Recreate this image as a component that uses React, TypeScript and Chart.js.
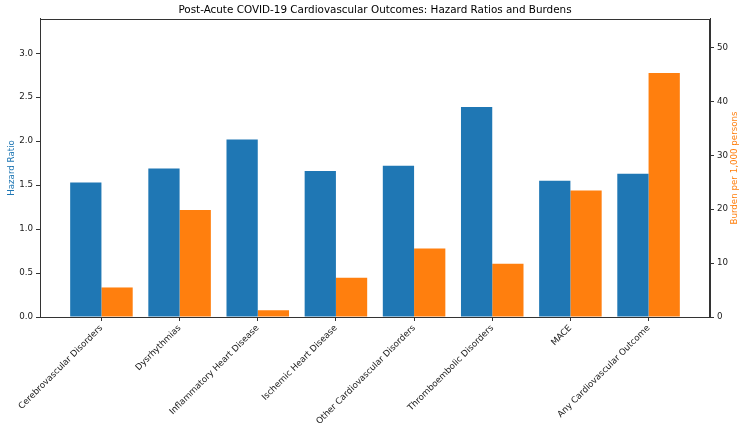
import React, { useEffect, useRef } from "react";
import { Chart, registerables } from "chart.js";
Chart.register(...registerables);

const categories = [
  "Cerebrovascular Disorders",
  "Dysrhythmias",
  "Inflammatory Heart Disease",
  "Ischemic Heart Disease",
  "Other Cardiovascular Disorders",
  "Thromboembolic Disorders",
  "MACE",
  "Any Cardiovascular Outcome",
];
const hazardRatios = [1.53, 1.69, 2.02, 1.66, 1.72, 2.39, 1.55, 1.63];
const burdens = [5.48, 19.86, 1.23, 7.28, 12.72, 9.88, 23.48, 45.29];
const hrTicks = [0, 0.5, 1.0, 1.5, 2.0, 2.5, 3.0];
const burdenTicks = [0, 10, 20, 30, 40, 50];

const FONT = "DejaVu Sans";
const TICK_SIZE = 8.7;
const AXIS = "#333333";
const TEXT = "#1a1a1a";
const BLUE = "#1f77b4";
const ORANGE = "#ff7f0e";

const framePlugin = {
  id: "frame",
  afterDraw(chart: any) {
    const { ctx, chartArea } = chart;
    ctx.save();
    ctx.strokeStyle = AXIS;
    ctx.lineWidth = 1;
    ctx.strokeRect(
      Math.round(chartArea.left) + 0.5,
      Math.round(chartArea.top) + 0.5,
      Math.round(chartArea.right - chartArea.left) - 1,
      Math.round(chartArea.bottom - chartArea.top)
    );
    // right axis title, reading bottom to top
    ctx.fillStyle = ORANGE;
    ctx.font = `${TICK_SIZE}px "${FONT}"`;
    ctx.textAlign = "center";
    ctx.textBaseline = "middle";
    ctx.translate(735, (chartArea.top + chartArea.bottom) / 2);
    ctx.rotate(-Math.PI / 2);
    ctx.fillText("Burden per 1,000 persons", 0, 0);
    ctx.restore();
  },
};

export default function App() {
  const ref = useRef<HTMLCanvasElement>(null);
  useEffect(() => {
    if (!ref.current) return;
    const font = { family: FONT, size: TICK_SIZE };
    const chart = new Chart(ref.current, {
      type: "bar",
      data: {
        datasets: [
          {
            label: "Hazard Ratio",
            data: hazardRatios.map((v, i) => ({ x: i, y: v })),
            backgroundColor: BLUE,
            yAxisID: "y",
          },
          {
            label: "Burden per 1,000 persons",
            data: burdens.map((v, i) => ({ x: i, y: v })),
            backgroundColor: ORANGE,
            yAxisID: "y1",
          },
        ],
      },
      options: {
        animation: false,
        responsive: false,
        devicePixelRatio: 1,
        layout: { padding: 0 },
        datasets: { bar: { categoryPercentage: 0.8, barPercentage: 1.0 } },
        plugins: {
          legend: { display: false },
          tooltip: { enabled: false },
          title: {
            display: true,
            text: "Post-Acute COVID-19 Cardiovascular Outcomes: Hazard Ratios and Burdens",
            color: "#000",
            font: { family: FONT, size: 10.4, weight: "normal" },
            padding: { top: 4, bottom: 2.5 },
          },
        },
        scales: {
          x: {
            type: "linear",
            min: -0.786,
            max: 7.786,
            offset: false,
            afterBuildTicks: (s: any) => {
              s.ticks = categories.map((_, i) => ({ value: i }));
            },
            afterFit: (s: any) => {
              s.height = 110;
            },
            ticks: {
              autoSkip: false,
              minRotation: 45,
              maxRotation: 45,
              padding: 2,
              color: TEXT,
              font,
              callback: (_v: any, i: number) => categories[i],
            },
            grid: { offset: false, drawOnChartArea: false, drawTicks: true, tickLength: 4, color: AXIS },
            border: { display: true, color: AXIS },
          },
          y: {
            type: "linear",
            position: "left",
            min: 0,
            max: 3.39,
            afterBuildTicks: (s: any) => {
              s.ticks = hrTicks.map((v) => ({ value: v }));
            },
            afterFit: (s: any) => {
              s.width = 40;
            },
            ticks: {
              color: TEXT,
              font,
              padding: 3,
              callback: (v: any) => Number(v).toFixed(1),
            },
            grid: { drawOnChartArea: false, drawTicks: true, tickLength: 4, color: AXIS },
            border: { display: true, color: AXIS },
            title: {
              display: true,
              text: "Hazard Ratio",
              color: BLUE,
              font,
              padding: { top: 6.8, bottom: 0 },
            },
          },
          y1: {
            type: "linear",
            position: "right",
            min: 0,
            max: 55.3,
            afterBuildTicks: (s: any) => {
              s.ticks = burdenTicks.map((v) => ({ value: v }));
            },
            afterFit: (s: any) => {
              s.width = 40;
            },
            ticks: {
              color: TEXT,
              font,
              padding: 3,
              callback: (v: any) => String(v),
            },
            grid: { drawOnChartArea: false, drawTicks: true, tickLength: 4, color: AXIS },
            border: { display: true, color: AXIS },
          },
        },
      } as any,
      plugins: [framePlugin],
    });
    return () => chart.destroy();
  }, []);
  return (
    <div style={{ position: "absolute", left: 0, top: 0, width: 750, height: 427, background: "#fff" }}>
      <canvas ref={ref} width={750} height={427} />
    </div>
  );
}
